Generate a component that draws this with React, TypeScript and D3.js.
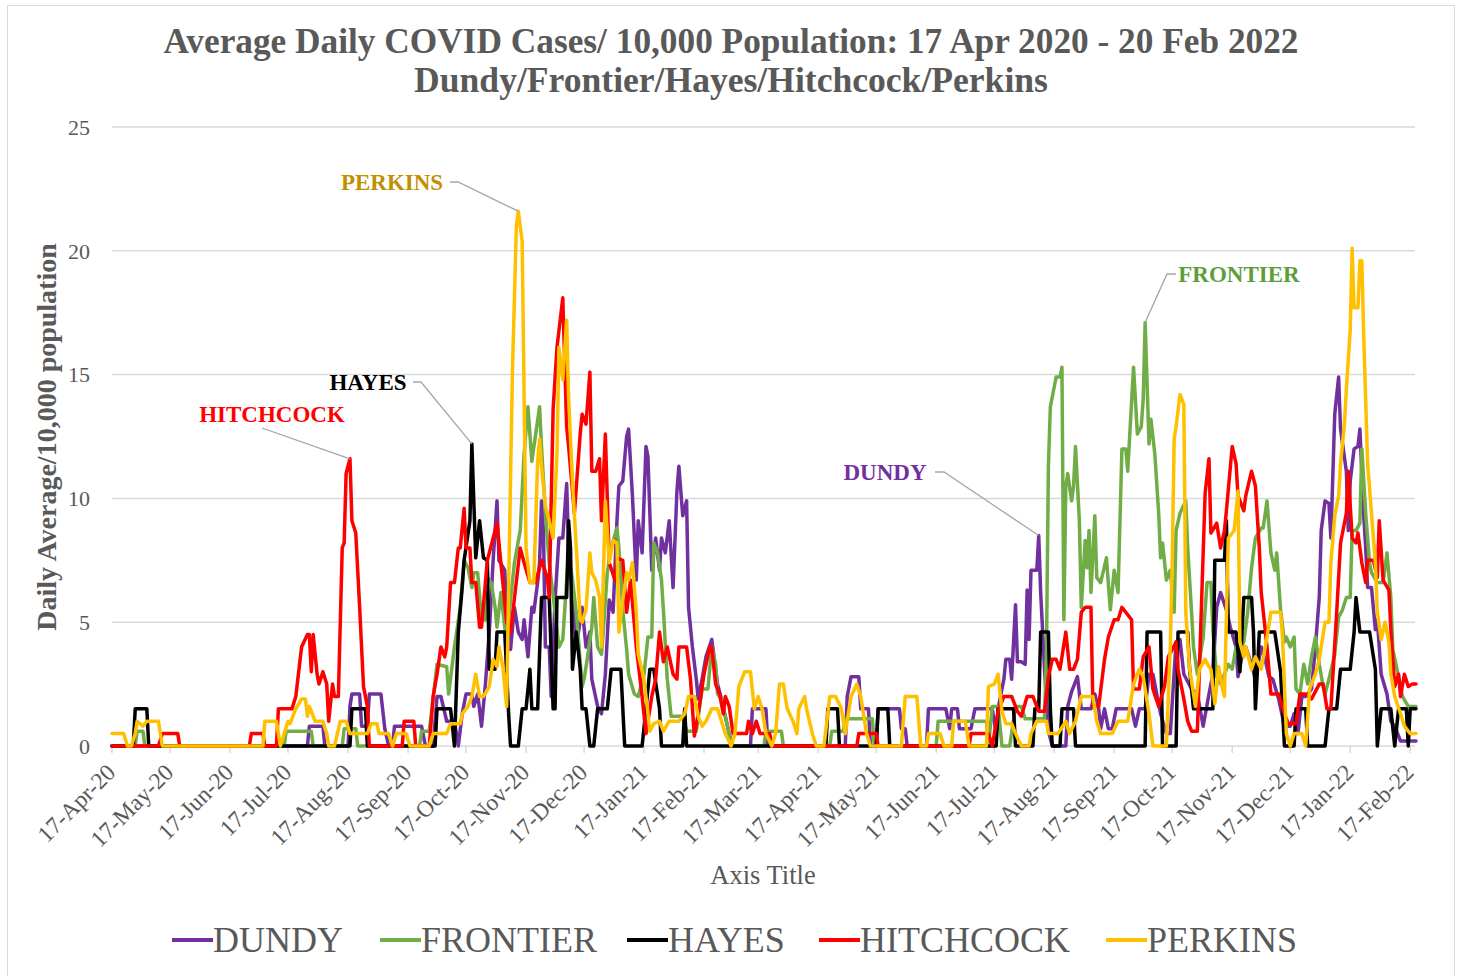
import React from "react";
import * as d3 from "d3";

// ---- data (day offset from 17-Apr-2020, daily average per 10,000) ----
const START_DATE = "17-Apr-20";
const END_DATE = "20-Feb-22";

const X_TICKS = [
  "17-Apr-20", "17-May-20", "17-Jun-20", "17-Jul-20", "17-Aug-20", "17-Sep-20",
  "17-Oct-20", "17-Nov-20", "17-Dec-20", "17-Jan-21", "17-Feb-21", "17-Mar-21",
  "17-Apr-21", "17-May-21", "17-Jun-21", "17-Jul-21", "17-Aug-21", "17-Sep-21",
  "17-Oct-21", "17-Nov-21", "17-Dec-21", "17-Jan-22", "17-Feb-22",
];
const Y_TICKS = [0, 5, 10, 15, 20, 25];

const DUNDY: [number, number][] = [
  [0,0],[101,0],[102,0.8],[109,0.8],[110,0],[122,0],[123,1.6],[124,2.1],[128,2.1],[129,0.8],[132,0.8],[133,2.1],[139,2.1],[141,0.7],[143,0],[145,0],[146,0.8],[160,0.8],[162,0],[166,0],[168,2],[170,2],[173,1],[177,1],[179,0],[181,1.3],[183,2.1],[186,2.1],[187,1.6],[189,2.1],[191,0.8],[193,2.5],[195,4.6],[197,7.5],[199,9.9],[200,7.5],[203,7.1],[204,5.1],[206,3.9],[208,5.6],[210,4.6],[212,4.3],[213,5.1],[215,3.6],[217,5.6],[218,5.4],[220,6.6],[221,7.4],[222,9.9],[223,8.7],[224,4],[226,4],[227,2],[229,5.9],[231,8.4],[233,8.4],[235,10.6],[236,8],[238,6],[240,4],[243,5.6],[245,4],[247,4.6],[248,2.7],[251,1.6],[253,1.3],[255,2.9],[257,5.9],[259,5.4],[261,9.1],[262,10.5],[264,10.7],[266,12.5],[267,12.8],[269,10.1],[271,6.7],[272,9.1],[274,7.8],[276,12.1],[277,11.7],[279,7.1],[281,8.4],[283,7.1],[284,8.4],[286,7.8],[288,9.1],[290,6.4],[292,10.3],[293,11.3],[295,9.3],[297,9.9],[298,5.6],[300,4],[302,2.7],[303,1.9],[305,2.7],[307,3.6],[310,4.3],[313,2.5],[315,1.9],[319,0.5],[321,0],[330,0],[331,1.5],[338,1.5],[339,0],[379,0],[380,2],[382,2.8],[386,2.8],[387,1.5],[391,1.5],[392,0],[395,0],[396,1.5],[407,1.5],[408,0.7],[410,0.7],[411,0],[421,0],[422,1.5],[431,1.5],[433,0.7],[434,1.5],[437,1.5],[438,0.7],[444,0.7],[446,1.5],[455,1.5],[457,0.5],[458,1.5],[461,2.7],[462,3.5],[464,3.5],[465,2.7],[467,5.7],[468,3.4],[470,3.4],[472,3.3],[473,6.3],[474,4.3],[475,7.1],[478,7.1],[479,8.5],[480,6.2],[482,3.1],[484,0.6],[486,0],[493,0],[494,1.6],[496,2.2],[499,2.8],[501,1.5],[506,1.5],[508,2.1],[510,1.5],[511,0.7],[513,1.5],[515,0.7],[517,0.7],[519,1.5],[527,1.5],[529,0.8],[531,1.5],[534,1.5],[536,2.9],[538,2.9],[540,2.1],[542,1.3],[545,0.5],[547,0.5],[550,4.2],[552,4.3],[554,2.9],[558,2.3],[561,2.1],[564,0.8],[567,2.1],[569,2.9],[571,5.6],[573,6.2],[576,5.5],[578,4.8],[581,4],[582,2.8],[584,3.6],[586,4],[589,3.3],[591,2.7],[594,4],[596,3.5],[598,2.8],[600,2.7],[603,1.9],[606,0.8],[609,0.8],[611,1.3],[613,0.5],[615,2],[617,2],[620,2.3],[622,4],[624,6],[625,8.7],[627,9.9],[629,9.8],[630,8.4],[632,13.4],[634,14.9],[635,12.8],[638,11.1],[639,8.7],[640,10.7],[642,12],[644,12.1],[645,12.8],[647,9.3],[648,8],[649,6.4],[651,6.4],[653,4.7],[654,5.1],[656,2.9],[659,2.1],[661,1],[663,0.8],[666,0.2],[674,0.2],
];

const FRONTIER: [number, number][] = [
  [0,0],[12,0],[13,0.6],[16,0.6],[17,0],[89,0],[90,0.6],[103,0.6],[104,0],[119,0],[120,0.7],[126,0.7],[127,0],[159,0],[160,0.6],[164,0.6],[168,3.3],[173,3.2],[174,2.1],[177,4],[180,5.6],[182,7.5],[184,7.2],[186,6.4],[187,7],[189,7],[191,5.1],[193,5.1],[194,6.8],[196,6.6],[198,5.6],[199,4.8],[201,6.2],[203,4.8],[204,4.3],[206,5.9],[208,7.4],[211,8.7],[213,11.8],[215,13.7],[217,11.5],[219,12.6],[221,13.7],[222,12.1],[224,9.4],[226,7.4],[229,5.4],[231,4],[233,4.3],[235,6.7],[236,7.8],[238,6.7],[240,5.4],[243,2.4],[244,2.7],[246,3.7],[248,4.8],[249,6],[251,4],[253,3.7],[254,4.7],[256,7],[258,8],[261,8.8],[262,8],[264,5.5],[266,3.9],[267,2.9],[270,2.1],[272,2],[275,2.9],[277,4.4],[279,4.4],[280,8.2],[282,7.8],[284,6.7],[285,5.5],[287,2.7],[289,1.2],[295,1.2],[297,0.6],[302,0.6],[305,2.3],[308,2.3],[310,4],[312,3.3],[313,2.1],[315,1.9],[319,0.5],[321,0],[337,0],[338,0.6],[346,0.6],[347,0],[371,0],[372,0.6],[378,0.6],[379,1.1],[393,1.1],[394,0],[426,0],[427,1],[452,1],[453,0],[455,1.6],[458,1.6],[460,0],[464,0],[467,1.6],[470,1.6],[472,1.1],[482,1.1],[483,3.9],[484,11.3],[485,13.7],[487,14.5],[488,14.9],[490,14.9],[491,15.3],[492,5.1],[493,10.5],[494,11],[496,9.9],[497,10.5],[498,12.1],[500,9.1],[501,5.6],[503,8.3],[504,7.2],[505,8.7],[506,6.2],[508,9.3],[509,6.8],[511,6.6],[514,7.6],[516,5.5],[518,7.1],[520,6.2],[522,12],[524,12],[525,11.1],[528,15.3],[530,12.6],[532,12.9],[533,14],[534,17.1],[536,12.2],[537,13.2],[539,11.8],[541,9.4],[542,7.6],[543,8.2],[545,6.7],[547,7.1],[549,5.4],[550,8.7],[552,9.4],[555,9.9],[556,8],[558,5.4],[559,4],[561,2.9],[564,4.4],[566,6.6],[568,6.6],[569,4.7],[571,2.8],[573,2.5],[575,2.9],[577,3.3],[579,3.1],[581,4],[582,3.7],[585,4.2],[587,5.4],[589,7.2],[591,8.4],[594,8.8],[595,8.8],[597,9.9],[599,7.8],[601,7.1],[602,7.8],[604,5.5],[606,4.2],[607,4.4],[609,4],[611,4.4],[612,2.3],[614,2.1],[616,3.3],[618,2.5],[620,3.6],[622,4.4],[624,3.3],[626,2.4],[627,2.1],[629,2.7],[632,3.7],[634,5.2],[636,5.5],[638,6],[640,6],[641,8.7],[643,8.7],[645,9],[646,12],[648,9.4],[650,7.4],[651,7],[654,6.6],[657,6.6],[659,7.8],[661,6],[662,3.9],[665,2.8],[667,2],[670,1.6],[674,1.6],
];

const HAYES: [number, number][] = [
  [0,0],[11,0],[12,1.5],[18,1.5],[19,0],[123,0],[124,1.5],[131,1.5],[132,0],[167,0],[168,1.5],[175,1.5],[177,0],[179,4.6],[181,6.4],[182,7.5],[185,9.1],[186,12.2],[188,7.6],[190,9.1],[192,7.6],[194,7.5],[195,3.1],[198,3.1],[199,4.6],[203,4.6],[205,1.3],[206,0],[210,0],[212,1.5],[214,1.5],[216,3.1],[217,1.5],[220,1.5],[222,6],[226,6],[228,1.5],[229,1.5],[230,6],[235,6],[236,9.1],[237,8],[238,3.1],[240,4.6],[242,3.1],[243,1.5],[245,1.5],[247,0],[249,0],[251,1.5],[256,1.5],[258,3.1],[263,3.1],[265,0],[274,0],[276,1.5],[278,3.1],[280,3.1],[283,1.5],[284,0],[295,0],[296,1.5],[297,0],[369,0],[370,1.5],[375,1.5],[376,0],[395,0],[396,1.5],[401,1.5],[402,0],[457,0],[458,1.5],[466,1.5],[467,0],[476,0],[477,1.5],[479,1.5],[480,4.6],[484,4.6],[485,1.5],[486,0],[490,0],[491,1.5],[497,1.5],[498,0],[534,0],[535,4.6],[542,4.6],[543,0],[550,0],[551,4.6],[556,4.6],[557,3.1],[559,1.5],[569,1.5],[570,7.5],[575,7.5],[576,9.1],[577,4.6],[581,4.6],[583,3],[585,6],[589,6],[590,4.6],[591,1.5],[592,3],[593,4.6],[601,4.6],[604,3],[606,0],[611,0],[612,1.5],[617,1.5],[618,0],[627,0],[629,1.5],[633,1.5],[635,3.1],[640,3.1],[642,4.6],[643,6],[645,4.6],[650,4.6],[653,3.1],[654,0],[656,1.5],[661,1.5],[663,0],[665,1.5],[669,1.5],[670,0],[671,1.5],[674,1.5],
];

const HITCHCOCK: [number, number][] = [
  [0,0],[24,0],[26,0.5],[34,0.5],[35,0],[71,0],[72,0.5],[78,0.5],[79,0],[85,0],[86,1.5],[93,1.5],[95,2],[98,4],[101,4.5],[102,4.5],[103,3],[104,4.5],[106,2.9],[107,2.5],[109,3],[111,2.5],[112,1],[114,2.5],[115,2],[117,2],[119,8],[120,8.2],[121,11],[123,11.6],[124,9.1],[126,8.6],[128,5.6],[130,2.4],[132,1.6],[133,0],[150,0],[151,1],[156,1],[157,0],[164,0],[166,2],[168,2.9],[170,4],[172,3.6],[173,4],[175,6.6],[177,6.6],[179,8],[180,8],[182,9.6],[183,8],[185,8],[186,6.6],[188,6.6],[190,4.8],[191,4.8],[194,7.5],[199,9],[201,7.4],[204,5],[206,4.6],[211,8],[213,7.4],[216,6.6],[219,6.6],[222,7.5],[225,6.8],[226,6],[228,13.6],[230,16.1],[233,18.1],[235,12.9],[236,12.1],[239,9.4],[242,12.6],[243,13.4],[245,13],[247,15.1],[248,11.1],[250,11.1],[252,11.6],[253,9.1],[255,12.6],[257,7.4],[260,6.7],[261,7.6],[264,7.5],[266,5.4],[268,6.7],[271,4],[274,2],[276,0.5],[279,2],[281,2.7],[283,4.6],[285,3.4],[287,4],[290,2.9],[292,2.7],[293,4],[297,4],[299,2.7],[301,0.4],[303,1.3],[306,2.9],[309,4],[310,4],[312,2.5],[314,2.1],[316,1.3],[317,2],[319,1.6],[321,0.5],[328,0.5],[329,1],[331,0.5],[333,1],[335,0.5],[340,0.5],[341,0],[385,0],[386,0.5],[395,0.5],[396,0],[443,0],[444,0.5],[453,0.5],[455,0],[458,1.4],[461,2],[465,2],[468,1.4],[470,1.2],[473,2],[476,2],[479,1.4],[482,1.4],[484,2.8],[486,3.5],[488,3.5],[490,3.1],[493,4.6],[495,3.1],[497,3.1],[499,3.5],[501,5.4],[503,5.6],[506,5.6],[507,1.6],[510,1.6],[513,3.5],[515,4.4],[518,5.1],[520,5.1],[522,5.6],[524,5.4],[527,5.1],[528,2.3],[531,2.3],[533,3.6],[536,4],[538,2.3],[541,1.6],[544,2.4],[546,3.6],[550,4.2],[551,3.1],[554,1.9],[556,1],[558,0.6],[561,0.6],[563,5.4],[565,10.2],[567,11.6],[568,8.6],[571,9],[573,8],[575,8.7],[576,9.5],[579,12.1],[581,11.4],[582,10.1],[585,9.5],[586,10.1],[589,11.1],[591,10.5],[593,8],[594,6.2],[597,4],[599,2.1],[603,2.1],[606,1.3],[608,0.9],[612,0.9],[614,2.1],[617,2.1],[620,1.9],[624,2.5],[626,2.5],[628,1.5],[630,1.5],[633,5.4],[635,8.2],[638,9.4],[639,11.1],[641,8.4],[643,8.2],[644,8.6],[646,7.4],[648,6.6],[649,7.5],[652,7.5],[654,6.8],[655,9.1],[657,6.7],[660,6.3],[661,4.7],[663,2.4],[665,2.9],[666,2],[668,2.9],[670,2.4],[672,2.5],[674,2.5],
];

const PERKINS: [number, number][] = [
  [0,0.5],[6,0.5],[8,0],[10,0],[12,0.5],[13,1],[16,0.8],[18,1],[24,1],[26,0],[78,0],[79,1],[85,1],[87,0],[89,0.5],[91,1],[92,0.9],[95,1.5],[98,1.9],[100,1.9],[101,1.2],[102,1.6],[105,1],[109,1],[111,0.5],[112,0],[115,0],[118,1],[121,1],[123,0.5],[132,0.5],[134,0.9],[137,0.9],[138,0.5],[143,0.5],[145,0],[147,0.5],[152,0.5],[154,0],[164,0],[166,0.5],[173,0.5],[175,0.9],[180,0.9],[181,1.3],[184,1.6],[186,2],[188,2.9],[190,2],[192,2],[195,2.4],[197,3.5],[199,3.2],[200,4],[202,3.2],[204,1.6],[205,6.4],[207,15.2],[209,21],[210,21.6],[212,20.4],[214,8],[216,6.6],[218,6.6],[220,11.5],[221,12.4],[222,11.3],[224,9.7],[226,9.1],[228,8.4],[230,11.8],[231,16.1],[233,14.8],[235,17.2],[236,14.1],[238,10.7],[240,8],[242,5.1],[243,5],[245,5.5],[247,7.8],[248,7],[250,6.7],[252,6],[253,4],[255,9.9],[257,7.4],[259,8.3],[261,8.2],[262,4.6],[264,5.9],[266,7],[267,6.7],[269,7.4],[271,5.4],[272,3.7],[275,2.7],[278,0.6],[280,0.9],[283,1],[285,0.6],[288,1],[293,1],[296,1.3],[298,2],[301,2],[303,1.2],[305,0.8],[307,1],[310,1.5],[313,1.5],[315,1],[317,0.5],[320,0],[322,0.5],[324,2.4],[327,3],[330,3],[332,1.5],[334,2],[336,1.5],[338,0.5],[341,0],[343,0.5],[345,2.5],[347,2.5],[349,1.5],[352,1],[354,0.5],[355,1.5],[358,2],[359,1.5],[362,0.5],[364,0],[368,0],[371,2],[374,2],[377,1.5],[379,0.5],[382,2],[385,2.5],[387,2],[390,0.5],[392,0],[408,0],[410,2],[416,2],[418,0],[421,0],[422,0.5],[428,0.5],[430,0],[434,0],[435,1],[441,1],[443,0],[452,0],[453,2.4],[456,2.5],[458,2.9],[460,1.4],[462,0.9],[465,0.9],[467,0.5],[470,0],[474,0],[475,0.5],[478,1],[483,1],[484,0.5],[489,0.5],[493,1],[495,0.5],[498,1],[501,2],[507,2],[509,1],[511,0.5],[517,0.5],[520,1],[525,1],[528,2.5],[531,3.1],[533,2.8],[536,1.3],[538,0],[545,0],[547,4],[548,7.4],[549,12.4],[550,12.9],[552,14.2],[554,13.8],[555,5.4],[557,3.1],[560,1.6],[562,3.1],[565,3.5],[567,3.2],[568,3.1],[570,1.7],[572,3.2],[574,2.3],[575,2],[577,8.4],[579,8.6],[580,8.7],[582,10.3],[583,4.2],[585,3.6],[586,4],[589,3.1],[591,3.6],[594,3.1],[597,4.4],[599,5.4],[604,5.4],[605,4.4],[607,0.5],[609,0],[611,0.5],[615,0.5],[617,0],[619,2.3],[622,2.9],[624,3.5],[627,5],[629,5],[630,7.4],[632,9.3],[634,10.1],[635,11.4],[637,13],[638,14.4],[640,16.8],[641,20.1],[642,17.7],[644,17.7],[645,19.6],[646,19.6],[647,16.5],[649,11.4],[651,9.4],[653,7.4],[654,5.4],[656,4.3],[658,5],[660,4.2],[661,2.9],[663,2],[666,1.3],[668,0.8],[671,0.5],[674,0.5],
];

const SERIES_NAMES = ["DUNDY", "FRONTIER", "HAYES", "HITCHCOCK", "PERKINS"];
const SERIES_COLORS = ["#7030A0", "#70AD47", "#000000", "#FF0000", "#FFC000"];
const SERIES_DATA = [DUNDY, FRONTIER, HAYES, HITCHCOCK, PERKINS];

// ---- layout ----
const W = 1460;
const H = 976;
const PLOT = { left: 112, right: 1416, top: 127, bottom: 746 };
const GREY = "#595959";
const GRID = "#D9D9D9";
const FONT = "'Liberation Serif', 'Times New Roman', serif";

const parse = d3.timeParse("%d-%b-%y");

export default function App() {
  const start = parse(START_DATE) as Date;
  const end = parse(END_DATE) as Date;
  const x = d3.scaleTime().domain([start, end]).range([PLOT.left, PLOT.right]);
  const y = d3.scaleLinear().domain([0, 25]).range([PLOT.bottom, PLOT.top]);
  const line = d3
    .line<[number, number]>()
    .x((p) => x(d3.timeDay.offset(start, p[0])))
    .y((p) => y(p[1]));

  const ticks = X_TICKS.map((t) => ({ label: t, date: parse(t) as Date }));

  const legendX = [172, 380, 627, 819, 1106];

  const callouts = [
    { i: 4, text: "PERKINS", color: "#BF9000", tx: 392, ty: 190, from: [[450, 182], [458, 182]], day: 210 },
    { i: 2, text: "HAYES", color: "#000000", tx: 368, ty: 390, from: [[413, 382], [421, 382]], day: 186 },
    { i: 3, text: "HITCHCOCK", color: "#FF0000", tx: 272, ty: 422, from: [[262, 428]], day: 123 },
    { i: 0, text: "DUNDY", color: "#7030A0", tx: 885, ty: 480, from: [[935, 472], [944, 472]], day: 479 },
    { i: 1, text: "FRONTIER", color: "#5E9E3A", tx: 1239, ty: 282, from: [[1176, 274], [1167, 274]], day: 534 },
  ];

  return (
    <svg
      width={W}
      height={H}
      style={{ position: "absolute", left: 0, top: 0, background: "#fff" }}
      fontFamily={FONT}
    >
      <rect x={7.5} y={5.5} width={1447} height={1000} fill="#fff" stroke={GRID} strokeWidth={1} />

      {/* title */}
      <text x={731} y={53} textAnchor="middle" fontSize={35.3} fontWeight="bold" fill={GREY}>
        Average Daily COVID Cases/ 10,000 Population: 17 Apr 2020 - 20 Feb 2022
      </text>
      <text x={731} y={92} textAnchor="middle" fontSize={35.6} fontWeight="bold" fill={GREY}>
        Dundy/Frontier/Hayes/Hitchcock/Perkins
      </text>

      {/* gridlines + y ticks */}
      {Y_TICKS.map((v) => (
        <g key={v}>
          <line x1={PLOT.left} x2={1415} y1={y(v)} y2={y(v)} stroke={GRID} strokeWidth={1.5} />
          <text x={90} y={y(v)} dy="0.35em" textAnchor="end" fontSize={22} fill={GREY}>
            {v}
          </text>
        </g>
      ))}

      {/* x axis ticks */}
      {ticks.map((t) => {
        const tx = x(t.date);
        return (
          <g key={t.label}>
            <line x1={tx} x2={tx} y1={PLOT.bottom} y2={PLOT.bottom + 7} stroke={GRID} strokeWidth={1.5} />
            <text
              transform={`translate(${tx - 1},${PLOT.bottom + 22}) rotate(-45)`}
              textAnchor="end"
              dy="0.35em"
              fontSize={23.5}
              fill={GREY}
            >
              {t.label}
            </text>
          </g>
        );
      })}

      {/* series */}
      {SERIES_DATA.map((data, i) => (
        <path
          key={SERIES_NAMES[i]}
          d={line(data) || ""}
          fill="none"
          stroke={SERIES_COLORS[i]}
          strokeWidth={3.5}
          strokeLinejoin="round"
          strokeLinecap="round"
        />
      ))}

      {/* callouts */}
      {callouts.map((c) => {
        const series = SERIES_DATA[c.i];
        const pt = series.find((p) => p[0] === c.day) as [number, number];
        const px = x(d3.timeDay.offset(start, pt[0]));
        const py = y(pt[1]);
        const pts = [...c.from, [px, py]];
        return (
          <g key={c.text}>
            <polyline
              points={pts.map((p) => p.join(",")).join(" ")}
              fill="none"
              stroke="#A6A6A6"
              strokeWidth={1.3}
            />
            <text x={c.tx} y={c.ty} textAnchor="middle" fontSize={23} fontWeight="bold" fill={c.color}>
              {c.text}
            </text>
          </g>
        );
      })}

      {/* axis titles */}
      <text
        transform={`translate(56,437) rotate(-90)`}
        textAnchor="middle"
        fontSize={28}
        fontWeight="bold"
        fill={GREY}
      >
        Daily Average/10,000 population
      </text>
      <text x={763} y={884} textAnchor="middle" fontSize={26.5} fill={GREY}>
        Axis Title
      </text>

      {/* legend */}
      {SERIES_NAMES.map((n, i) => (
        <g key={n}>
          <line x1={legendX[i]} x2={legendX[i] + 41} y1={940} y2={940} stroke={SERIES_COLORS[i]} strokeWidth={4} />
          <text x={legendX[i] + 41} y={952} fontSize={36} fill={GREY}>
            {n}
          </text>
        </g>
      ))}
    </svg>
  );
}
